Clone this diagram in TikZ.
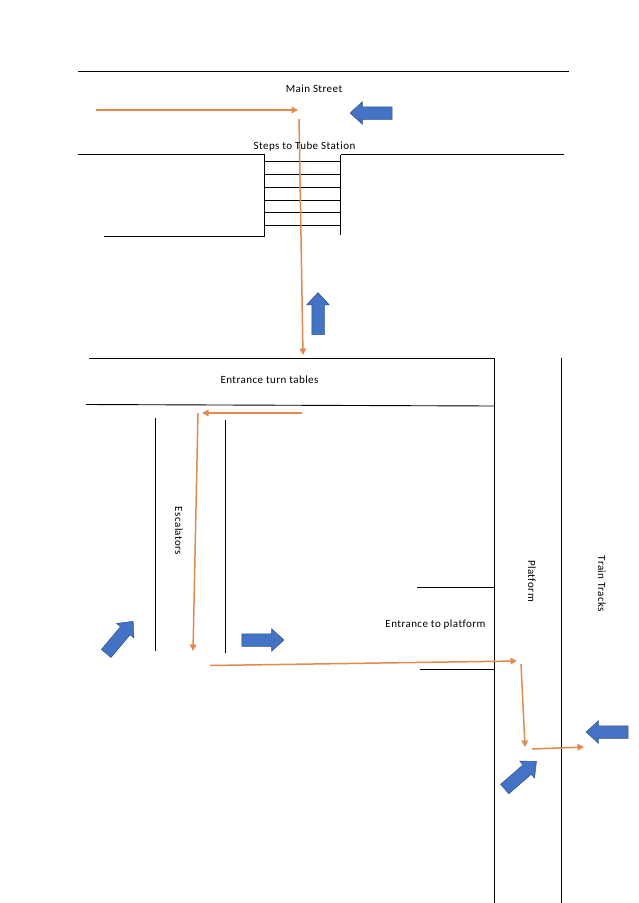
\documentclass[tikz,border=0pt]{standalone}
\usepackage{fontspec}
\setmainfont[LetterSpace=4,Ligatures=NoCommon]{Carlito}
\usetikzlibrary{shapes.arrows,arrows.meta}
\definecolor{flow}{HTML}{E58A4E}
\definecolor{bluefill}{HTML}{4472C4}
\definecolor{blueedge}{HTML}{2F528F}
\tikzset{
  wall/.style={black,line width=0.9pt},
  flowline/.style={flow,line width=1.5pt,-{Triangle[length=6.5pt,width=6.5pt]}},
  bigarrow/.style={single arrow,draw=blueedge,fill=bluefill,line width=0.5pt,minimum height=42pt,minimum width=22pt,inner sep=6pt,single arrow head extend=5pt,single arrow tip angle=85,anchor=center},
  lbl/.style={font=\fontsize{11}{13}\selectfont,inner sep=0pt}
}
\begin{document}
\begin{tikzpicture}[x=1pt,y=-1pt]
\useasboundingbox (0,0) rectangle (638,903);
\fill[white] (0,0) rectangle (638,903);
% walls
\coordinate (mt1) at (78,71); \coordinate (mt2) at (569,71);
\coordinate (ms1) at (78,154.5); \coordinate (ms2) at (264,154.5);
\coordinate (ms3) at (341,154.5); \coordinate (ms4) at (564,154.5);
\coordinate (sb1) at (104,236); \coordinate (sb2) at (264,236);
\coordinate (sr2) at (340.5,235);
\draw[wall] (mt1) -- (mt2);
\draw[wall] (ms1) -- (ms2) -- (sb2) -- (sb1);
\draw[wall] (ms3) -- (ms4);
\draw[wall] (340.5,154.5) -- (sr2);
\foreach \y in {161.3,174.3,187.3,200.3,212.3,225.3}
  \draw[wall] (265,\y) -- (340.5,\y);
\coordinate (e1) at (89,358); \coordinate (e2) at (494.5,358);
\coordinate (e3) at (86,404.5); \coordinate (e4) at (494.5,406);
\coordinate (p1b) at (494.5,903);
\coordinate (t1) at (561,358); \coordinate (t2) at (561,903);
\draw[wall] (e1) -- (e2) -- (p1b);
\draw[wall] (e3) -- (e4);
\draw[wall] (t1) -- (t2);
\coordinate (esc1a) at (155,418); \coordinate (esc1b) at (155,651);
\coordinate (esc2a) at (225.5,420); \coordinate (esc2b) at (225.5,653);
\draw[wall] (esc1a) -- (esc1b);
\draw[wall] (esc2a) -- (esc2b);
\coordinate (g1) at (417,587.5); \coordinate (g2) at (494.5,587.5);
\coordinate (g3) at (420,669.5); \coordinate (g4) at (494.5,669.5);
\draw[wall] (g1) -- (g2);
\draw[wall] (g3) -- (g4);
% orange route
\coordinate (a1) at (96,110); \coordinate (a2) at (298,110);
\coordinate (b1) at (299,119); \coordinate (b2) at (303,355);
\coordinate (c1) at (302,413); \coordinate (c2) at (202,413);
\coordinate (d1) at (198,413); \coordinate (d2) at (193,651);
\coordinate (f1) at (210,665.5); \coordinate (f2) at (517,661);
\coordinate (h1) at (521,664); \coordinate (h2) at (525,747);
\coordinate (i1) at (532,749); \coordinate (i2) at (584,747);
\draw[flowline] (a1) -- (a2);
\draw[flowline] (b1) -- (b2);
\draw[flowline] (c1) -- (c2);
\draw[flowline] (d1) -- (d2);
\draw[flowline] (f1) -- (f2);
\draw[flowline] (h1) -- (h2);
\draw[flowline] (i1) -- (i2);
% blue arrows
\node[bigarrow,rotate=180] (ba1) at (374.5,113) {};
\node[bigarrow,rotate=90] (ba2) at (318,317) {};
\node[bigarrow,rotate=50] (ba3) at (117.5,640) {};
\node[bigarrow] (ba4) at (259.5,640) {};
\node[bigarrow,rotate=41] (ba5) at (518,777.5) {};
\node[bigarrow,rotate=180] (ba6) at (610.5,732) {};
% labels
\node[lbl] (n1) at (314,88.5) {Main Street};
\node[lbl] (n2) at (304.5,146.5) {Steps to Tube Station};
\node[lbl] (n3) at (269.5,380) {Entrance turn tables};
\node[lbl,rotate=-90] (n4) at (179,531) {Escalators};
\node[lbl] (n5) at (435.5,625) {Entrance to platform};
\node[lbl,rotate=-90] (n6) at (532,581) {Platform};
\node[lbl,rotate=-90] (n7) at (602,584) {Train Tracks};
\end{tikzpicture}
\end{document}
